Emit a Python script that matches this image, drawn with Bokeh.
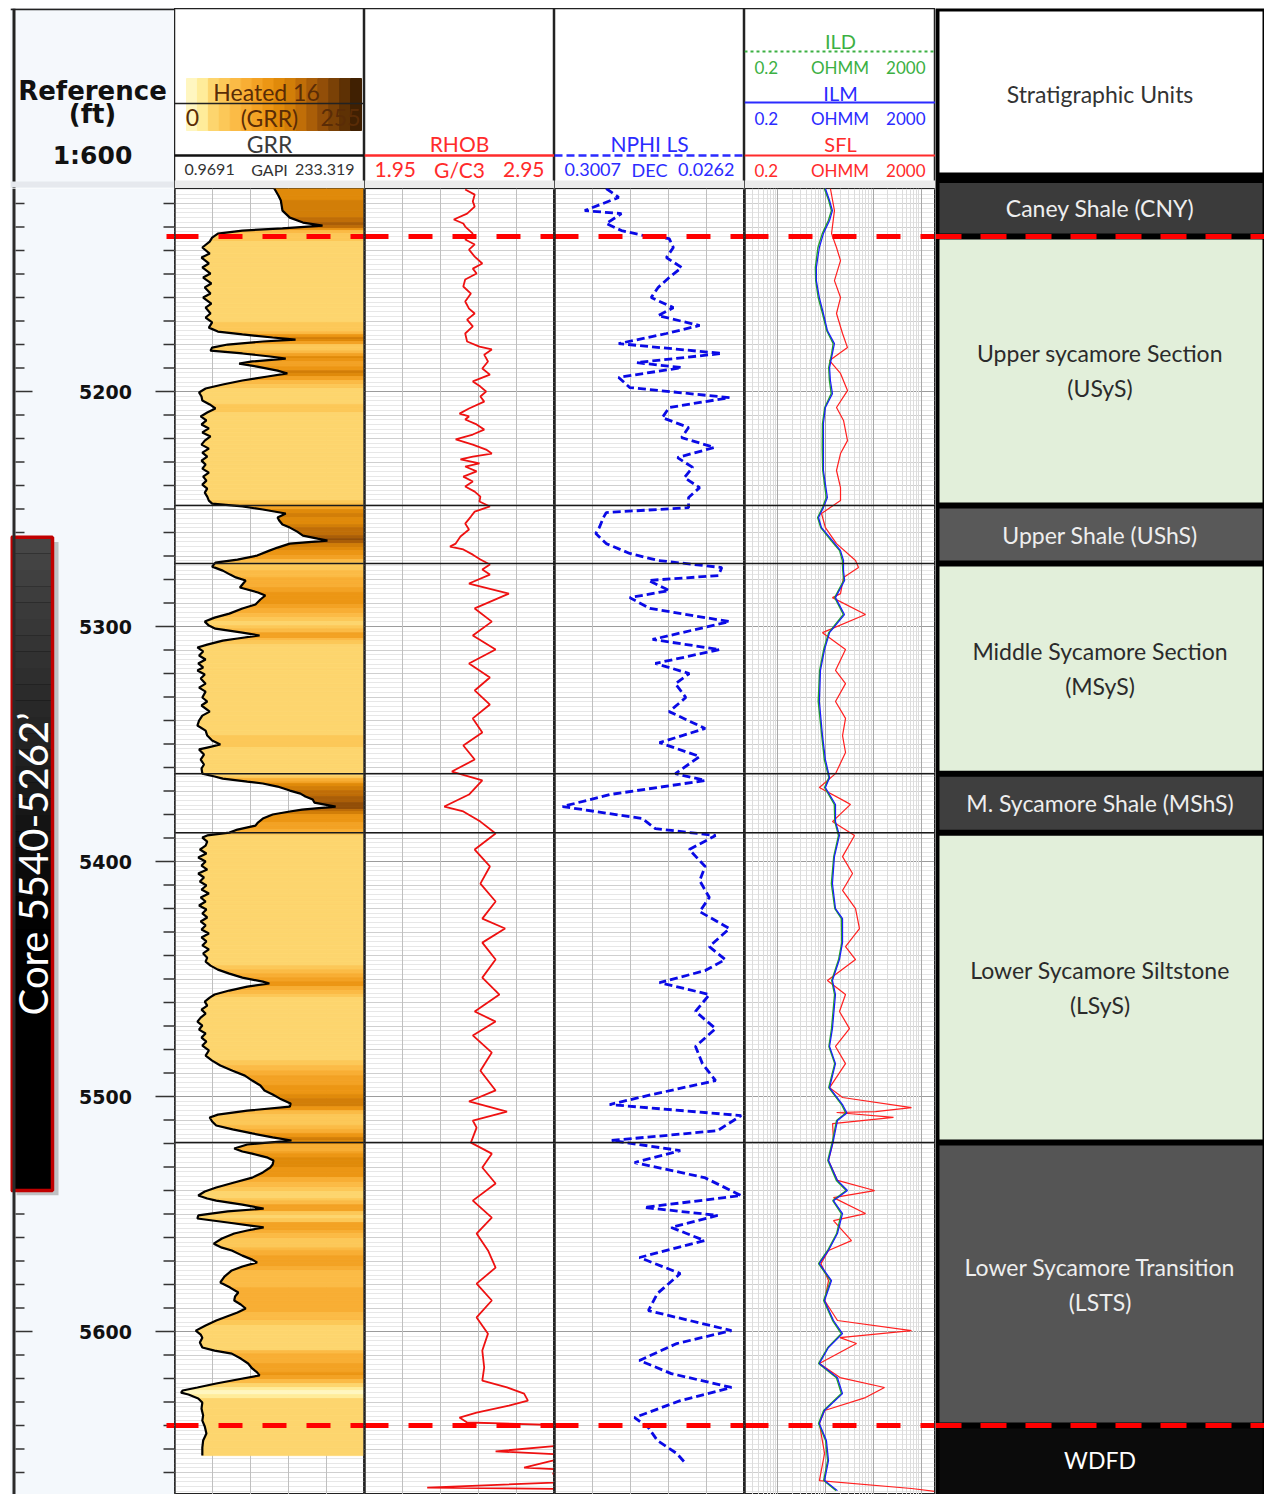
import numpy as np
from bokeh.plotting import figure
from bokeh.layouts import row, column
from bokeh.models import Range1d, Span, FixedTicker, SingleIntervalTicker, Grid, LogScale
from bokeh.core.properties import value
from bokeh.embed import file_html
from bokeh.resources import INLINE

# ------------------------------------------------------------------ data
unit_tops = [5110.0, 5134.0, 5248.5, 5273.2, 5362.6, 5387.7, 5519.6, 5640.0, 5700.0]
unit_names = ["Caney Shale (CNY)", "Upper sycamore Section\n(USyS)", "Upper Shale (UShS)",
              "Middle Sycamore Section\n(MSyS)", "M. Sycamore Shale (MShS)",
              "Lower Sycamore Siltstone\n(LSyS)", "Lower Sycamore Transition\n(LSTS)", "WDFD"]
unit_fill = ["#3b3b3b", "#e2efda", "#595959", "#e2efda", "#3f3f3f", "#e2efda", "#555555", "#0b0b0b"]
unit_text = ["#eeeeee", "#2b2b2b", "#eeeeee", "#2b2b2b", "#eeeeee", "#2b2b2b", "#eeeeee", "#ffffff"]
dashed_tops = [5134.0, 5640.0]
solid_tops = [5248.5, 5273.2, 5362.6, 5387.7, 5519.6]
core_top, core_base = 5262.0, 5540.0
core_label = "Core 5540-5262\u2019"
depth_labels = [5200, 5300, 5400, 5500, 5600]

gr_scale = (0.9691, 233.319)
rhob_scale = (1.95, 2.95)
nphi_scale = (0.3007, 0.0262)
res_scale = (0.2, 2000.0)

gr_log = [
    (5113.6, 123), (5116.6, 128), (5118.7, 131), (5123.0, 133), (5126.0, 142), (5128.1, 158), (5129.4, 182),
    (5130.6, 133), (5131.5, 84), (5132.8, 54), (5134.5, 47), (5136.2, 44), (5138.7, 35), (5141.3, 44),
    (5143.0, 34), (5145.5, 43), (5147.2, 35), (5149.8, 45), (5151.5, 36), (5154.0, 46), (5155.7, 38),
    (5158.3, 45), (5160.0, 36), (5162.6, 46), (5164.3, 39), (5166.8, 45), (5168.5, 39), (5170.6, 47),
    (5172.8, 43), (5174.5, 54), (5175.7, 84), (5177.0, 121), (5177.9, 149), (5178.7, 109), (5180.0, 66),
    (5181.3, 47), (5182.6, 45), (5183.8, 84), (5185.1, 118), (5186.0, 137), (5187.2, 96), (5188.1, 80),
    (5189.4, 102), (5191.1, 127), (5192.3, 139), (5193.6, 115), (5195.3, 84), (5197.0, 60), (5198.7, 39),
    (5200.4, 31), (5202.1, 34), (5203.8, 35), (5205.5, 44), (5207.2, 51), (5208.9, 41), (5210.6, 33),
    (5212.3, 40), (5214.0, 34), (5215.7, 43), (5217.4, 35), (5219.1, 45), (5220.9, 38), (5222.6, 34),
    (5224.3, 43), (5226.0, 35), (5227.7, 41), (5229.4, 34), (5231.1, 39), (5232.8, 35), (5234.5, 43),
    (5236.2, 36), (5237.9, 40), (5239.6, 35), (5241.3, 41), (5243.0, 38), (5244.7, 41), (5246.4, 43),
    (5247.7, 47), (5248.9, 84), (5250.2, 109), (5251.9, 137), (5253.6, 127), (5254.9, 129), (5256.6, 133),
    (5257.9, 142), (5259.6, 151), (5261.3, 158), (5262.6, 176), (5263.4, 188), (5264.7, 142), (5266.4, 127),
    (5267.7, 117), (5269.8, 102), (5271.5, 78), (5272.8, 51), (5274.5, 47), (5276.2, 60), (5277.9, 69),
    (5279.1, 76), (5280.4, 88), (5282.1, 84), (5283.4, 81), (5285.5, 103), (5286.8, 112), (5288.5, 106),
    (5290.6, 100), (5292.3, 84), (5294.5, 68), (5296.2, 50), (5297.9, 38), (5299.6, 43), (5300.9, 51),
    (5302.6, 84), (5303.8, 105), (5305.1, 78), (5306.0, 60), (5307.7, 41), (5308.9, 29), (5310.6, 36),
    (5312.3, 31), (5314.0, 39), (5315.7, 30), (5317.4, 36), (5318.7, 29), (5320.4, 38), (5322.1, 33),
    (5324.3, 39), (5326.0, 31), (5327.7, 39), (5330.2, 35), (5331.9, 41), (5333.6, 34), (5336.2, 44),
    (5337.9, 35), (5340.0, 31), (5342.1, 29), (5344.3, 39), (5346.4, 41), (5348.5, 47), (5350.2, 57),
    (5351.5, 41), (5352.3, 31), (5354.5, 37), (5356.6, 33), (5358.7, 37), (5360.4, 34), (5362.6, 35),
    (5363.8, 50), (5364.7, 60), (5366.0, 90), (5366.8, 109), (5368.1, 127), (5369.8, 142), (5371.1, 155),
    (5372.3, 161), (5373.6, 170), (5374.9, 172), (5376.6, 198), (5377.9, 157), (5378.7, 142), (5380.0, 121),
    (5381.7, 109), (5383.4, 103), (5384.7, 100), (5386.4, 78), (5387.7, 68), (5388.9, 41), (5389.8, 35),
    (5391.5, 41), (5393.2, 39), (5394.9, 32), (5396.6, 40), (5398.3, 30), (5400.0, 39), (5401.7, 34),
    (5403.4, 41), (5405.1, 30), (5406.8, 37), (5408.5, 32), (5410.2, 40), (5411.9, 34), (5413.6, 43),
    (5415.3, 33), (5417.0, 39), (5418.7, 31), (5420.4, 40), (5422.1, 35), (5423.8, 41), (5425.5, 33),
    (5427.2, 39), (5428.9, 34), (5430.6, 43), (5432.3, 34), (5434.0, 40), (5435.7, 35), (5437.4, 43),
    (5439.1, 36), (5440.9, 41), (5442.6, 39), (5444.3, 45), (5446.0, 54), (5447.7, 68), (5449.4, 84),
    (5451.1, 109), (5451.9, 117), (5453.2, 90), (5454.9, 68), (5456.6, 50), (5457.9, 44), (5459.6, 38),
    (5461.3, 41), (5463.0, 34), (5464.7, 39), (5466.4, 33), (5468.1, 29), (5469.8, 35), (5471.5, 31),
    (5473.2, 39), (5474.9, 34), (5476.6, 40), (5478.3, 35), (5480.4, 43), (5482.6, 39), (5484.7, 47),
    (5486.8, 57), (5489.0, 72), (5491.1, 87), (5493.2, 96), (5495.3, 106), (5497.4, 111), (5499.1, 121),
    (5500.9, 130), (5503.0, 143), (5504.3, 142), (5506.0, 90), (5507.7, 54), (5508.9, 44), (5510.6, 47),
    (5512.3, 52), (5514.0, 72), (5515.7, 96), (5517.4, 121), (5518.7, 144), (5520.4, 90), (5522.1, 74),
    (5523.4, 84), (5524.3, 96), (5526.0, 115), (5527.2, 122), (5528.9, 121), (5530.2, 118), (5532.3, 109),
    (5534.5, 96), (5536.6, 74), (5538.7, 52), (5540.4, 38), (5542.1, 30), (5543.4, 41), (5544.3, 52),
    (5546.0, 84), (5547.7, 110), (5548.9, 66), (5550.6, 30), (5551.9, 29), (5553.6, 66), (5555.7, 110),
    (5557.0, 90), (5558.3, 74), (5560.4, 59), (5562.6, 49), (5564.3, 59), (5565.5, 71), (5567.7, 84),
    (5569.4, 96), (5570.6, 102), (5572.3, 84), (5574.0, 71), (5576.6, 62), (5579.1, 57), (5581.3, 69),
    (5583.4, 79), (5585.1, 75), (5586.8, 74), (5588.5, 82), (5590.2, 88), (5591.9, 78), (5593.6, 65),
    (5595.3, 52), (5597.4, 39), (5599.6, 27), (5601.3, 33), (5602.6, 35), (5604.7, 32), (5606.8, 35),
    (5608.1, 50), (5609.4, 71), (5611.5, 82), (5613.6, 91), (5615.7, 96), (5617.4, 102), (5618.7, 105),
    (5620.4, 78), (5622.1, 52), (5623.8, 29), (5625.1, 11), (5626.0, 9), (5626.8, 18), (5628.5, 30),
    (5630.2, 35), (5632.8, 34), (5635.7, 36), (5637.9, 35), (5640.4, 38), (5643.4, 40), (5646.4, 36),
    (5649.4, 35), (5652.8, 35),
]

rhob_log = [
    (5114.0, 2.48), (5116.2, 2.53), (5119.1, 2.52), (5121.3, 2.53), (5124.3, 2.49), (5126.8, 2.42),
    (5128.5, 2.47), (5129.8, 2.48), (5132.8, 2.52), (5135.3, 2.48), (5137.4, 2.53), (5139.6, 2.50),
    (5142.6, 2.53), (5145.5, 2.57), (5147.7, 2.52), (5149.8, 2.54), (5152.3, 2.48), (5155.3, 2.47),
    (5158.3, 2.51), (5161.7, 2.48), (5164.7, 2.50), (5166.8, 2.53), (5169.4, 2.49), (5172.3, 2.52),
    (5175.3, 2.48), (5178.7, 2.49), (5180.9, 2.555), (5182.1, 2.62), (5184.3, 2.58), (5187.2, 2.60),
    (5190.2, 2.57), (5192.8, 2.61), (5195.7, 2.52), (5197.9, 2.56), (5200.0, 2.59), (5202.1, 2.56),
    (5204.3, 2.58), (5207.2, 2.50), (5209.4, 2.45), (5210.6, 2.50), (5211.9, 2.48), (5214.0, 2.54),
    (5216.2, 2.58), (5218.3, 2.52), (5220.4, 2.43), (5222.6, 2.52), (5224.7, 2.59), (5226.4, 2.62),
    (5227.7, 2.52), (5228.9, 2.455), (5230.6, 2.555), (5231.9, 2.48), (5234.0, 2.54), (5236.2, 2.47),
    (5238.3, 2.52), (5240.4, 2.48), (5242.6, 2.53), (5244.7, 2.56), (5246.8, 2.555), (5248.9, 2.61),
    (5251.1, 2.53), (5253.2, 2.51), (5256.2, 2.48), (5258.7, 2.50), (5261.7, 2.455), (5264.7, 2.43),
    (5266.0, 2.40), (5267.2, 2.47), (5269.4, 2.52), (5271.5, 2.56), (5273.6, 2.61), (5275.7, 2.57),
    (5277.9, 2.61), (5281.7, 2.50), (5286.0, 2.71), (5292.3, 2.53), (5297.9, 2.62),
    (5303.8, 2.52), (5309.8, 2.64), (5315.7, 2.50), (5321.7, 2.61), (5327.2, 2.53), (5333.2, 2.61),
    (5339.1, 2.52), (5345.1, 2.57), (5350.6, 2.47), (5356.6, 2.53), (5361.7, 2.41), (5365.5, 2.57),
    (5371.5, 2.50), (5376.6, 2.37), (5378.7, 2.47), (5383.0, 2.56), (5388.1, 2.64), (5394.9, 2.53),
    (5402.1, 2.61), (5409.4, 2.56), (5417.0, 2.64), (5424.3, 2.57), (5428.5, 2.69), (5434.5, 2.57),
    (5441.7, 2.64), (5449.4, 2.57), (5456.6, 2.66), (5463.8, 2.53), (5468.1, 2.64), (5474.0, 2.52),
    (5481.3, 2.62), (5489.0, 2.56), (5497.4, 2.64), (5502.1, 2.50), (5506.4, 2.70), (5510.2, 2.52),
    (5513.2, 2.54), (5519.6, 2.51), (5524.3, 2.62), (5530.2, 2.57), (5537.0, 2.64), (5544.3, 2.52),
    (5551.5, 2.62), (5558.3, 2.54), (5565.5, 2.60), (5572.8, 2.64), (5579.6, 2.54), (5586.8, 2.62),
    (5594.0, 2.54), (5600.9, 2.60), (5608.1, 2.57), (5615.3, 2.58), (5620.9, 2.57), (5623.8, 2.70),
    (5626.4, 2.79), (5629.4, 2.81), (5631.5, 2.71), (5634.5, 2.54), (5636.6, 2.45), (5638.7, 2.49),
    (5640.0, 3.05), (5648.0, 3.05), (5651.0, 2.64), (5652.5, 3.05), (5654.9, 2.94), (5657.9, 2.79),
    (5659.0, 3.05), (5660.4, 2.94), (5664.0, 3.05), (5666.4, 2.28), (5667.0, 3.05),
]

nphi_log = [
    (5113.6, 0.226), (5117.4, 0.208), (5123.0, 0.257), (5124.3, 0.204), (5128.5, 0.226), (5131.5, 0.204),
    (5133.6, 0.172), (5134.9, 0.135), (5138.7, 0.129), (5143.0, 0.139), (5147.2, 0.117), (5151.5, 0.135),
    (5155.7, 0.151), (5160.0, 0.161), (5164.3, 0.129), (5167.7, 0.151), (5171.9, 0.091), (5175.3, 0.139),
    (5179.6, 0.208), (5183.8, 0.059), (5187.7, 0.182), (5189.8, 0.117), (5194.0, 0.208), (5198.3, 0.192),
    (5202.6, 0.048), (5206.8, 0.135), (5211.1, 0.145), (5215.3, 0.107), (5219.6, 0.117), (5223.8, 0.070),
    (5228.1, 0.123), (5232.3, 0.101), (5236.6, 0.113), (5240.9, 0.091), (5245.1, 0.107), (5249.4, 0.107),
    (5251.5, 0.226), (5253.6, 0.230), (5257.9, 0.236), (5260.4, 0.241), (5264.7, 0.226), (5268.9, 0.192),
    (5271.9, 0.151), (5274.9, 0.059), (5278.3, 0.064), (5280.4, 0.165), (5284.7, 0.135), (5287.7, 0.192),
    (5292.3, 0.163), (5297.9, 0.048), (5305.5, 0.159), (5309.8, 0.062), (5315.7, 0.155), (5320.0, 0.106),
    (5324.3, 0.126), (5330.2, 0.111), (5336.2, 0.135), (5343.4, 0.083), (5349.4, 0.149), (5355.3, 0.091),
    (5362.6, 0.126), (5365.5, 0.083), (5371.5, 0.221), (5376.6, 0.289), (5381.7, 0.174), (5386.0, 0.155),
    (5388.9, 0.068), (5394.9, 0.106), (5402.1, 0.083), (5408.1, 0.091), (5415.3, 0.077), (5421.3, 0.091),
    (5428.5, 0.048), (5436.2, 0.077), (5441.7, 0.054), (5446.4, 0.083), (5451.5, 0.149), (5456.6, 0.077),
    (5463.8, 0.097), (5471.1, 0.068), (5478.7, 0.097), (5486.0, 0.087), (5493.2, 0.068), (5499.1, 0.159),
    (5503.4, 0.221), (5508.1, 0.031), (5514.5, 0.065), (5518.7, 0.218), (5523.0, 0.119), (5528.1, 0.185),
    (5534.5, 0.084), (5542.1, 0.031), (5547.2, 0.171), (5550.6, 0.065), (5555.7, 0.132), (5561.3, 0.084),
    (5568.5, 0.178), (5575.3, 0.119), (5583.8, 0.152), (5591.1, 0.165), (5599.6, 0.045), (5605.1, 0.124),
    (5612.3, 0.178), (5617.9, 0.132), (5623.8, 0.045), (5629.4, 0.119), (5636.6, 0.185), (5640.9, 0.165),
    (5646.4, 0.152), (5651.9, 0.124), (5656.2, 0.111),
]

ilm_log = [
    (5113.6, 9.9), (5118.7, 12.1), (5123.0, 13.9), (5127.2, 12.1), (5132.8, 9.0), (5138.7, 7.4),
    (5147.2, 6.4), (5152.8, 6.4), (5160.0, 7.4), (5166.8, 9.0), (5174.0, 10.9), (5179.6, 15.3),
    (5183.8, 13.9), (5189.8, 12.1), (5195.3, 12.6), (5200.9, 13.9), (5206.8, 9.9), (5213.6, 9.0),
    (5223.8, 9.0), (5233.6, 9.0), (5245.1, 10.9), (5249.4, 9.0), (5253.6, 7.1), (5257.9, 8.2),
    (5263.4, 13.9), (5267.7, 20.5), (5271.9, 23.7), (5276.2, 23.7), (5280.4, 25.0), (5287.7, 16.1),
    (5294.9, 24.8), (5302.6, 12.1), (5309.8, 9.5), (5318.7, 7.8), (5331.9, 7.4), (5346.4, 8.6),
    (5356.6, 9.9), (5364.3, 12.1), (5368.5, 9.9), (5375.7, 16.1), (5383.0, 16.1), (5388.9, 19.5),
    (5397.9, 15.3), (5409.4, 13.9), (5420.0, 16.1), (5424.3, 22.6), (5434.5, 22.6), (5441.7, 19.5),
    (5450.6, 13.9), (5456.6, 16.1), (5471.1, 13.9), (5478.7, 12.1), (5486.0, 16.1), (5496.2, 12.1),
    (5503.4, 22.6), (5507.0, 28.0), (5510.2, 17.7), (5518.7, 14.6), (5527.2, 11.5), (5535.7, 17.7),
    (5540.0, 28.7), (5544.3, 14.6), (5549.8, 22.6), (5558.3, 17.7), (5565.5, 11.5), (5571.1, 7.4),
    (5578.3, 13.3), (5586.8, 9.5), (5595.3, 14.6), (5600.9, 22.6), (5606.8, 11.5), (5613.6, 7.4),
    (5619.6, 17.7), (5626.4, 22.6), (5633.6, 9.5), (5639.1, 7.4), (5646.4, 10.4), (5654.9, 11.5),
    (5663.4, 9.5), (5667.7, 17.7),
]

ild_log = [
    (5113.6, 9.4), (5118.7, 11.6), (5123.0, 13.2), (5127.2, 11.4), (5132.8, 8.5), (5138.7, 6.9),
    (5147.2, 6.1), (5152.8, 6.2), (5160.0, 7.0), (5166.8, 8.6), (5174.0, 10.5), (5179.6, 14.4),
    (5183.8, 13.4), (5189.8, 11.6), (5195.3, 12.0), (5200.9, 13.1), (5206.8, 9.6), (5213.6, 8.6),
    (5223.8, 8.5), (5233.6, 8.7), (5245.1, 10.3), (5249.4, 8.6), (5253.6, 6.8), (5257.9, 7.9),
    (5263.4, 13.0), (5267.7, 19.6), (5271.9, 22.4), (5276.2, 22.9), (5280.4, 23.8), (5287.7, 15.5),
    (5294.9, 23.5), (5302.6, 11.6), (5309.8, 9.1), (5318.7, 7.5), (5331.9, 7.0), (5346.4, 8.3),
    (5356.6, 9.4), (5364.3, 11.7), (5368.5, 9.5), (5375.7, 15.2), (5383.0, 15.6), (5388.9, 18.6),
    (5397.9, 14.8), (5409.4, 13.2), (5420.0, 15.6), (5424.3, 21.4), (5434.5, 21.8), (5441.7, 18.7),
    (5450.6, 13.4), (5456.6, 15.4), (5471.1, 13.3), (5478.7, 11.7), (5486.0, 15.5), (5496.2, 11.6),
    (5503.4, 21.5), (5507.0, 26.4), (5510.2, 16.9), (5518.7, 14.0), (5527.2, 11.1), (5535.7, 16.8),
    (5540.0, 27.0), (5544.3, 14.1), (5549.8, 21.3), (5558.3, 17.0), (5565.5, 11.0), (5571.1, 7.1),
    (5578.3, 12.7), (5586.8, 9.1), (5595.3, 14.0), (5600.9, 21.2), (5606.8, 11.1), (5613.6, 7.1),
    (5619.6, 16.8), (5626.4, 21.4), (5633.6, 9.1), (5639.1, 7.1), (5646.4, 10.0), (5654.9, 11.0),
    (5663.4, 9.1), (5667.7, 16.6),
]

sfl_log = [
    (5113.6, 12.6), (5123.0, 15.3), (5132.8, 13.3), (5138.7, 16.9), (5144.3, 20.5), (5152.8, 15.3),
    (5160.0, 20.5), (5166.8, 16.9), (5175.3, 22.6), (5181.3, 28.7), (5186.8, 12.1), (5192.3, 20.5),
    (5199.6, 28.7), (5206.8, 16.9), (5212.3, 23.7), (5220.9, 28.7), (5226.4, 20.5), (5233.6, 16.9),
    (5240.9, 20.5), (5246.4, 20.5), (5251.9, 8.2), (5257.9, 9.9), (5264.7, 16.9), (5271.9, 42.3),
    (5274.9, 48.8), (5279.1, 23.7), (5286.0, 20.5), (5287.7, 13.9), (5294.9, 68.4), (5302.6, 8.6),
    (5309.8, 26.1), (5318.7, 16.1), (5324.3, 26.1), (5331.9, 16.1), (5339.1, 26.1), (5346.4, 22.6),
    (5353.6, 26.1), (5362.6, 16.1), (5368.5, 7.4), (5374.5, 26.1), (5375.7, 33.2), (5383.0, 13.9),
    (5388.9, 40.3), (5397.9, 22.6), (5405.1, 36.6), (5412.3, 22.6), (5420.0, 42.3), (5428.5, 51.2),
    (5436.2, 26.1), (5441.7, 42.3), (5450.6, 10.9), (5456.6, 26.1), (5463.8, 19.5), (5471.1, 31.6),
    (5478.7, 16.1), (5486.0, 26.1), (5496.2, 12.1), (5500.4, 22.6), (5504.7, 628.0), (5506.4, 111.0),
    (5506.8, 17.0), (5508.9, 264.0), (5511.5, 14.0), (5518.7, 14.6), (5527.2, 11.5), (5535.7, 17.7),
    (5540.0, 106.0), (5543.0, 14.6), (5549.8, 68.4), (5552.8, 14.6), (5561.3, 34.8), (5565.5, 11.5),
    (5571.1, 8.0), (5578.3, 11.5), (5586.8, 9.5), (5595.3, 17.7), (5599.6, 628.0), (5602.6, 20.0),
    (5605.1, 44.4), (5613.6, 7.4), (5619.6, 20.0), (5623.8, 171.0), (5628.1, 68.4), (5633.6, 9.5),
    (5639.1, 7.4), (5651.9, 9.5), (5663.4, 7.4), (5666.8, 628.0), (5668.0, 2000.0),
]

# ------------------------------------------------------------------ layout constants
PX_PER_FT = 2.35
TOP_DEPTH = 5113.6
HEAD_H = 180
DATA_H = 1306
BOT_DEPTH = TOP_DEPTH + DATA_H / PX_PER_FT
W_DEPTH, W_GR, W_RHOB, W_NPHI, W_RES, W_STRAT = 164, 190, 190, 190, 191, 329
FONT = "Lato"

HEATED = ["#fff6c0", "#ffec9a", "#fdd56e", "#fcc858", "#fbbb46", "#f8ae34", "#f3a224", "#ec9614",
          "#e08a0a", "#d27e08", "#c06e08", "#aa5e08", "#924e08", "#7a4106", "#5e3104", "#402002"]

yr = Range1d(start=BOT_DEPTH, end=TOP_DEPTH)


def unzip(pairs):
    return [a for a, _ in pairs], [b for _, b in pairs]


def base_fig(w, h, xr, yrange):
    p = figure(width=w, height=h, x_range=xr, y_range=yrange, x_axis_type=None, y_axis_type=None,
               toolbar_location=None, output_backend="svg", min_border=0)
    p.outline_line_color = "#222222"
    p.outline_line_width = 1
    p.background_fill_color = "white"
    p.border_fill_color = "white"
    return p


def depth_grids(p):
    p.add_layout(Grid(dimension=1, ticker=SingleIntervalTicker(interval=10, num_minor_ticks=5),
                      grid_line_color="#cfcfcf", grid_line_width=1,
                      minor_grid_line_color="#e7e7e7", minor_grid_line_width=1))
    p.add_layout(Grid(dimension=1, ticker=SingleIntervalTicker(interval=100),
                      grid_line_color="#9c9c9c", grid_line_width=1))


def lin_vgrid(p, lo, hi):
    p.add_layout(Grid(dimension=0, ticker=FixedTicker(ticks=list(np.linspace(lo, hi, 6)[1:-1])),
                      grid_line_color="#bfbfbf", grid_line_width=1))


def track_edges(p, lo, hi, color="#222222"):
    for loc in (lo, hi):
        p.add_layout(Span(location=loc, dimension="height", line_color=color, line_width=2.5))


def boundaries(p):
    for d in solid_tops:
        p.add_layout(Span(location=d, dimension="width", line_color="#1a1a1a", line_width=1.5))
    for d in dashed_tops:
        p.add_layout(Span(location=d, dimension="width", line_color="#ff0000", line_width=5,
                          line_dash="24 20"))


def htext(p, x, y, t, color, size, align="center", font=FONT, style="normal"):
    p.text(x=[x], y=[y], text=[t], text_color=color, text_font=value(font),
           text_font_size=f"{size}px", text_align=align, text_baseline="middle",
           text_font_style=style)


def head_fig(w):
    p = base_fig(w, HEAD_H, Range1d(0, w), Range1d(HEAD_H, 0))
    p.outline_line_width = 1.5
    p.quad(left=0, right=w, top=HEAD_H - 8, bottom=HEAD_H, fill_color="#ebebeb", line_color=None)
    return p


def scale_row(p, w, y, left, mid, right, color, size):
    htext(p, 10, y, left, color, size, align="left")
    htext(p, w / 2, y, mid, color, size)
    htext(p, w - 10, y, right, color, size, align="right")

# ------------------------------------------------------------------ depth column
hd_depth = base_fig(W_DEPTH, HEAD_H, Range1d(0, W_DEPTH), Range1d(HEAD_H, 0))
hd_depth.background_fill_color = "#f5f8fc"
hd_depth.border_fill_color = "#f5f8fc"
hd_depth.outline_line_color = None
hd_depth.add_layout(Span(location=3.5, dimension="height", line_color="#222", line_width=3))
hd_depth.add_layout(Span(location=0.8, dimension="width", line_color="#222", line_width=2))
hd_depth.add_layout(Span(location=HEAD_H - 4, dimension="width", line_color="#e6e9ee", line_width=6))
htext(hd_depth, 82, 82, "Reference", "#111", 26, font="DejaVu Sans", style="bold")
htext(hd_depth, 82, 105, "(ft)", "#111", 26, font="DejaVu Sans", style="bold")
htext(hd_depth, 82, 147, "1:600", "#111", 25, font="DejaVu Sans", style="bold")

d_depth = base_fig(W_DEPTH, DATA_H, Range1d(0, W_DEPTH), yr)
d_depth.outline_line_color = None
d_depth.background_fill_color = "#f4f8fc"
d_depth.border_fill_color = "#f4f8fc"
d_depth.add_layout(Span(location=3.5, dimension="height", line_color="#2a2a2a", line_width=3))
tick_d = list(range(5120, 5670, 10))
minor_d = [d for d in tick_d if d % 100 != 0]
major_d = [d for d in tick_d if d % 100 == 0]
d_depth.segment(x0=5, x1=14, y0=minor_d, y1=minor_d, line_color="#333", line_width=1.5)
d_depth.segment(x0=153, x1=164, y0=minor_d, y1=minor_d, line_color="#333", line_width=1.5)
d_depth.segment(x0=5, x1=22, y0=major_d, y1=major_d, line_color="#333", line_width=1.5)
d_depth.segment(x0=145, x1=164, y0=major_d, y1=major_d, line_color="#333", line_width=1.5)
d_depth.text(x=[95] * len(depth_labels), y=depth_labels, text=[str(v) for v in depth_labels],
             text_color="#111", text_font=value("DejaVu Sans"), text_font_style="bold",
             text_font_size="19px", text_align="center", text_baseline="middle")
d_depth.segment(x0=156, x1=164, y0=dashed_tops, y1=dashed_tops, line_color="#ff0000", line_width=5)
# core box (shadow, gradient body, red frame)
d_depth.quad(left=6, right=48, top=core_top + 2.0, bottom=core_base + 2.0, fill_color="#8a8a8a",
             fill_alpha=0.5, line_color=None)
n_band = 24
band_edges = np.linspace(core_top, core_top + 0.6 * (core_base - core_top), n_band + 1)
d_depth.quad(left=1, right=42, top=core_top, bottom=core_base, fill_color="#000000", line_color=None)
for i in range(n_band):
    g = int(70 * (1 - i / n_band))
    d_depth.quad(left=1, right=42, top=band_edges[i], bottom=band_edges[i + 1],
                 fill_color=f"#{g:02x}{g:02x}{g:02x}", line_color=None)
d_depth.quad(left=1, right=42, top=core_top, bottom=core_base, fill_color=None,
             line_color="#c00000", line_width=3.5)
d_depth.text(x=[22], y=[(core_top + core_base) / 2], text=[core_label], angle=np.pi / 2,
             text_color="white", text_font=value(FONT), text_font_size="40px",
             text_align="center", text_baseline="middle")

# ------------------------------------------------------------------ GR track
hd_gr = head_fig(W_GR)
bw = 175 / 16
hd_gr.quad(left=[12 + i * bw for i in range(16)], right=[12 + (i + 1) * bw for i in range(16)],
           top=70, bottom=122, fill_color=HEATED, line_color=HEATED)
hd_gr.segment(x0=0, x1=W_GR, y0=95, y1=95, line_color="#222", line_width=1.5)
htext(hd_gr, 95, 83, "Heated  16", "#5a2c06", 23)
htext(hd_gr, 18, 109, "0", "#5a2c06", 23)
htext(hd_gr, 95, 109, "(GRR)", "#5a2c06", 23)
htext(hd_gr, 186, 109, "255", "#5a2c06", 23, align="right")
htext(hd_gr, 95, 135, "GRR", "#3a3a3a", 23)
hd_gr.segment(x0=0, x1=W_GR, y0=147, y1=147, line_color="#111", line_width=2.5)
scale_row(hd_gr, W_GR, 161, "0.9691", "GAPI", "233.319", "#333333", 16)

d_gr = base_fig(W_GR, DATA_H, Range1d(*gr_scale), yr)
depth_grids(d_gr)
lin_vgrid(d_gr, *gr_scale)
gd, gv = unzip(gr_log)
xs, ys, cols = [], [], []
for i in range(len(gd) - 1):
    xs.append([gv[i], gr_scale[1], gr_scale[1], gv[i + 1]])
    ys.append([gd[i], gd[i], gd[i + 1], gd[i + 1]])
    g = 0.5 * (gv[i] + gv[i + 1])
    cols.append(HEATED[min(15, int(g / gr_scale[1] * 16))])
d_gr.patches(xs=xs, ys=ys, fill_color=cols, line_color=cols, line_width=0.8)
d_gr.line(gv, gd, line_color="#000000", line_width=2.2)
boundaries(d_gr)
track_edges(d_gr, *gr_scale, color="#333333")

# ------------------------------------------------------------------ RHOB track
hd_rhob = head_fig(W_RHOB)
htext(hd_rhob, 95, 135, "RHOB", "#ff2b2b", 21)
hd_rhob.segment(x0=0, x1=W_RHOB, y0=147, y1=147, line_color="#ff2b2b", line_width=2.5)
scale_row(hd_rhob, W_RHOB, 161, "1.95", "G/C3", "2.95", "#ff2b2b", 21)

d_rhob = base_fig(W_RHOB, DATA_H, Range1d(*rhob_scale), yr)
depth_grids(d_rhob)
lin_vgrid(d_rhob, *rhob_scale)
rd, rv = unzip(rhob_log)
d_rhob.line(rv, rd, line_color="#ee1111", line_width=1.8)
boundaries(d_rhob)
track_edges(d_rhob, *rhob_scale)

# ------------------------------------------------------------------ NPHI track
hd_nphi = head_fig(W_NPHI)
htext(hd_nphi, 95, 135, "NPHI LS", "#2b2bff", 21)
hd_nphi.segment(x0=0, x1=W_NPHI, y0=147, y1=147, line_color="#2b2bff", line_width=2.5, line_dash="8 4")
scale_row(hd_nphi, W_NPHI, 161, "0.3007", "DEC", "0.0262", "#2b2bff", 18)

d_nphi = base_fig(W_NPHI, DATA_H, Range1d(*nphi_scale), yr)
depth_grids(d_nphi)
lin_vgrid(d_nphi, *nphi_scale)
nd, nv = unzip(nphi_log)
d_nphi.line(nv, nd, line_color="#0a0ae6", line_width=2.8, line_dash="8 4")
boundaries(d_nphi)
track_edges(d_nphi, *nphi_scale)

# ------------------------------------------------------------------ Resistivity track
hd_res = head_fig(W_RES)
htext(hd_res, 96, 32, "ILD", "#3cb043", 20)
hd_res.segment(x0=0, x1=W_RES, y0=43, y1=43, line_color="#3cb043", line_width=2, line_dash="3 3")
scale_row(hd_res, W_RES, 59, "0.2", "OHMM", "2000", "#3cb043", 17)
htext(hd_res, 96, 84, "ILM", "#2b2bff", 20)
hd_res.segment(x0=0, x1=W_RES, y0=94, y1=94, line_color="#2b2bff", line_width=2)
scale_row(hd_res, W_RES, 110, "0.2", "OHMM", "2000", "#2b2bff", 17)
htext(hd_res, 96, 135, "SFL", "#ff2b2b", 20)
hd_res.segment(x0=0, x1=W_RES, y0=147, y1=147, line_color="#ff2b2b", line_width=2)
scale_row(hd_res, W_RES, 162, "0.2", "OHMM", "2000", "#ff2b2b", 17)

d_res = base_fig(W_RES, DATA_H, Range1d(*res_scale), yr)
d_res.x_scale = LogScale()
depth_grids(d_res)
minor_res = [m * 10.0 ** k for k in range(-1, 4) for m in range(2, 10) if 0.2 <= m * 10.0 ** k < 2000]
d_res.add_layout(Grid(dimension=0, ticker=FixedTicker(ticks=[1, 10, 100, 1000], minor_ticks=minor_res),
                      grid_line_color="#a8a8a8", grid_line_width=1,
                      minor_grid_line_color="#dcdcdc", minor_grid_line_width=1))
sd, sv = unzip(sfl_log)
dd, dv = unzip(ild_log)
md, mv = unzip(ilm_log)
d_res.line(sv, sd, line_color="#ff2020", line_width=1.2)
d_res.line(dv, dd, line_color="#22a22a", line_width=1.4)
d_res.line(mv, md, line_color="#1a1aff", line_width=1.2)
boundaries(d_res)
track_edges(d_res, *res_scale)

# ------------------------------------------------------------------ Stratigraphic column
strat_top = TOP_DEPTH - HEAD_H / PX_PER_FT
strat = base_fig(W_STRAT, HEAD_H + DATA_H, Range1d(0, 1), Range1d(start=BOT_DEPTH, end=strat_top))
strat.background_fill_color = "#000000"
strat.border_fill_color = "#000000"
strat.outline_line_color = None
x_in, x_out = 4 / W_STRAT, 1 - 2 / W_STRAT
strat.quad(left=x_in, right=x_out, top=strat_top + 3 / PX_PER_FT, bottom=strat_top + 164 / PX_PER_FT,
           fill_color="white", line_color=None)
strat.text(x=[0.5], y=[strat_top + 85 / PX_PER_FT], text=["Stratigraphic Units"], text_color="#333333",
           text_font=value(FONT), text_font_size="23px", text_align="center", text_baseline="middle")
gap = 3 / PX_PER_FT
u_top = [t + gap for t in unit_tops[:-1]]
u_bot = [t - gap for t in unit_tops[1:]]
strat.quad(left=x_in, right=x_out, top=u_top, bottom=u_bot, fill_color=unit_fill, line_color=None)
lab_y = [(unit_tops[i] + min(unit_tops[i + 1], BOT_DEPTH)) / 2 for i in range(len(unit_names))]
strat.text(x=[0.5] * len(unit_names), y=lab_y, text=unit_names, text_color=unit_text,
           text_font=value(FONT), text_font_size="23px", text_align="center", text_baseline="middle",
           text_line_height=1.25)
for d in dashed_tops:
    strat.add_layout(Span(location=d, dimension="width", line_color="#ff0000", line_width=5,
                          line_dash="26 19"))

layout = row(
    column(hd_depth, d_depth),
    column(hd_gr, d_gr),
    column(hd_rhob, d_rhob),
    column(hd_nphi, d_nphi),
    column(hd_res, d_res),
    strat,
    margin=(8, 0, 0, 10),
)

open("out.html", "w").write(file_html(layout, INLINE))
